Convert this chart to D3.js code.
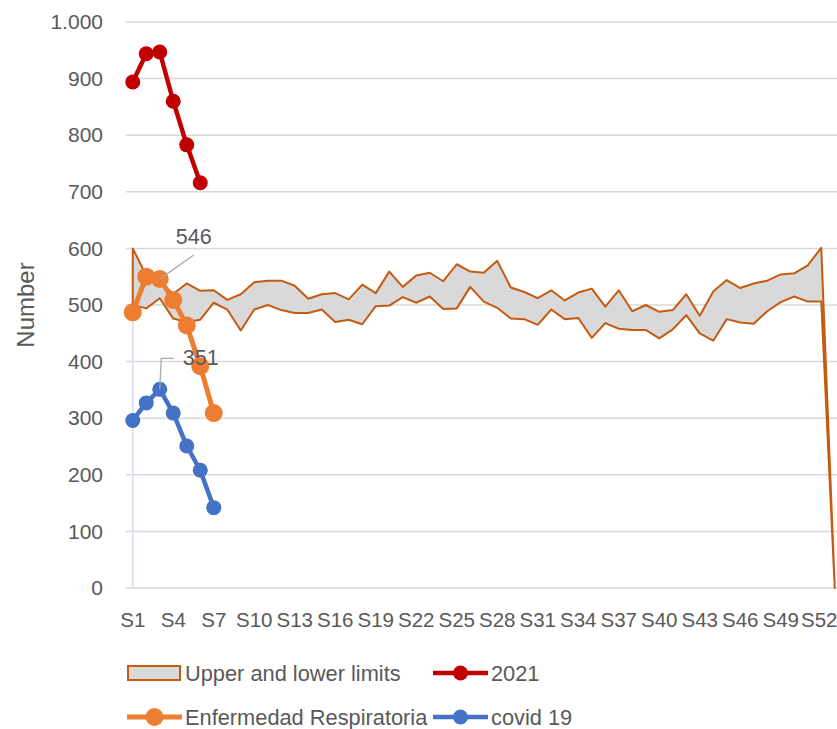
<!doctype html>
<html lang="en">
<head>
  <meta charset="utf-8">
  <title>weekly chart</title>
  <style>
    * { margin: 0; padding: 0; box-sizing: border-box; }
    body { background: #fff; }
    text { font-family: "Liberation Sans", Arial, sans-serif; fill: #595959; }
  </style>
</head>
<body>
  <div class="chart"></div>
  <script src="https://cdn.jsdelivr.net/npm/d3@7"></script>
  <script>
    // ---------------------------------------------------------------
    //@@ data
    const weeks = d3.range(1, 54).map(i => 'S' + i);
    const weekTicks = weeks.filter((d, i) => i % 3 === 0);
    const yTicks = [0, 100, 200, 300, 400, 500, 600, 700, 800, 900, 1000];

    const upperLimit = [600, 552, 540, 520, 538, 525, 526, 509, 519, 540,
      543, 543, 534, 511, 519, 521, 510, 536, 521, 559,
      532, 552, 557, 542, 572, 559, 557, 578, 531, 523,
      512, 526, 508, 522, 529, 497, 526, 489, 500, 488,
      491, 519, 481, 524, 544, 530, 538, 543, 554, 556,
      570, 601, 0];
    const lowerLimit = [500, 494, 512, 476, 470, 474, 504, 492, 455, 492,
      500, 491, 486, 486, 492, 470, 474, 466, 498, 499,
      514, 504, 515, 493, 494, 532, 506, 495, 476, 475,
      465, 492, 475, 477, 442, 468, 458, 456, 456, 441,
      457, 482, 450, 437, 475, 469, 467, 489, 505, 515,
      506, 506, 0];

    const values2021 = [894, 944, 947, 860, 783, 716];
    const valuesRespiratoria = [487, 550, 546, 509, 464, 392, 309];
    const valuesCovid = [296, 327, 351, 309, 251, 208, 142];

    const series = [
      {name: '2021', values: values2021, color: '#C00000', r: 7.5, w: 4.5},
      {name: 'Enfermedad Respiratoria', values: valuesRespiratoria, color: '#ED7D31', r: 9, w: 5},
      {name: 'covid 19', values: valuesCovid, color: '#4472C4', r: 7.5, w: 4.5}
    ];

    // ---------------------------------------------------------------
    //@@ svg
    const svg = d3.select('.chart').append('svg')
      .attr('width', 837)
      .attr('height', 729);

    //@@ scales
    const x = d3.scaleBand().domain(weeks).range([126, 126 + 53 * 13.5]);
    const cx = d => x(d) + x.bandwidth() / 2;
    const y = d3.scaleLinear().domain([0, 1000]).range([588, 22]);

    //@@ gridlines
    svg.append('g').attr('note', 'grid')
      .selectAll('line')
      .data(yTicks)
      .enter().append('line')
      .attr('x1', x.range()[0]).attr('x2', x.range()[1])
      .attr('y1', d => y(d)).attr('y2', d => y(d))
      .attr('stroke', '#d9d9d9')
      .attr('stroke-width', 1.5);

    //@@ y axis
    const locale = d3.formatLocale({decimal: ',', thousands: '.', grouping: [3], currency: ['', '']});
    const axisY = d3.axisLeft(y).tickValues(yTicks).tickSize(0).tickPadding(0).tickFormat(locale.format(',d'));
    const areaAxisY = svg.append('g')
      .attr('transform', 'translate(103,0)')
      .call(axisY);
    areaAxisY.select('.domain').remove();
    areaAxisY.selectAll('text')
      .attr('fill', '#595959')
      .style('font-size', '21px')
      .style('font-family', '"Liberation Sans", Arial, sans-serif');

    svg.append('text')
      .attr('transform', `translate(34,${y(500)}) rotate(-90)`)
      .attr('text-anchor', 'middle')
      .style('font-size', '24px')
      .text('Number');

    //@@ x axis
    const axisX = d3.axisBottom(x).tickValues(weekTicks).tickSize(0).tickPadding(0);
    const areaAxisX = svg.append('g')
      .attr('transform', 'translate(0,612)')
      .call(axisX);
    areaAxisX.select('.domain').remove();
    areaAxisX.selectAll('text')
      .attr('fill', '#595959')
      .style('font-size', '20.5px')
      .style('font-family', '"Liberation Sans", Arial, sans-serif');
    areaAxisX.selectAll('.tick').filter(d => d === 'S52')
      .select('text').attr('dx', '-2');

    //@@ band
    const bandData = weeks.map((w, i) => ({w, lo: lowerLimit[i], hi: upperLimit[i]}));
    svg.append('line')
      .attr('x1', cx(weeks[0])).attr('x2', cx(weeks[0]))
      .attr('y1', y(0)).attr('y2', y(lowerLimit[0]))
      .attr('stroke', '#dae3f3').attr('stroke-width', 2);

    svg.append('path')
      .datum(bandData)
      .attr('d', d3.area().x(d => cx(d.w)).y0(d => y(d.lo)).y1(d => y(d.hi)))
      .attr('fill', '#d9d9d9')
      .attr('stroke', '#C55A11')
      .attr('stroke-width', 2)
      .attr('stroke-linejoin', 'round');

    //@@ series
    series.forEach(s => {
      const pts = s.values.map((v, i) => ({w: weeks[i], v}));
      const g = svg.append('g');
      g.append('path')
        .datum(pts)
        .attr('d', d3.line().x(d => cx(d.w)).y(d => y(d.v)))
        .attr('fill', 'none')
        .attr('stroke', s.color)
        .attr('stroke-width', s.w)
        .attr('stroke-linejoin', 'round');
      g.selectAll('circle')
        .data(pts)
        .enter().append('circle')
        .attr('cx', d => cx(d.w))
        .attr('cy', d => y(d.v))
        .attr('r', s.r)
        .attr('fill', s.color);
    });

    //@@ data labels
    const px = cx(weeks[2]);
    const pyR = y(valuesRespiratoria[2]);
    svg.append('path')
      .attr('d', `M${px},${pyR}L${px + 34},${pyR - 24}`)
      .attr('stroke', '#a6a6a6').attr('stroke-width', 1.3).attr('fill', 'none');
    svg.append('text')
      .attr('x', px + 34).attr('y', pyR - 35)
      .attr('text-anchor', 'middle')
      .attr('fill', '#404040')
      .style('font-size', '21.5px')
      .text(valuesRespiratoria[2]);

    const pyC = y(valuesCovid[2]);
    svg.append('path')
      .attr('d', `M${px},${pyC}L${px + 1.5},${pyC - 31}L${px + 14},${pyC - 31}`)
      .attr('stroke', '#a6a6a6').attr('stroke-width', 1.3).attr('fill', 'none');
    svg.append('text')
      .attr('x', px + 41).attr('y', pyC - 24)
      .attr('text-anchor', 'middle')
      .attr('fill', '#404040')
      .style('font-size', '21.5px')
      .text(valuesCovid[2]);

    //@@ legend
    const legendItems = [
      {name: 'Upper and lower limits', type: 'band', x: 127, y: 673},
      {name: series[0].name, type: 'line', s: series[0], x: 433, y: 673},
      {name: series[1].name, type: 'line', s: series[1], x: 127, y: 717},
      {name: series[2].name, type: 'line', s: series[2], x: 433, y: 717}
    ];
    const legend = svg.append('g').attr('note', 'legend');
    legendItems.forEach(it => {
      const g = legend.append('g').attr('transform', `translate(${it.x},${it.y})`);
      if (it.type === 'band') {
        g.append('rect')
          .attr('x', 1).attr('y', -7).attr('width', 52).attr('height', 14)
          .attr('fill', '#d9d9d9').attr('stroke', '#C55A11').attr('stroke-width', 2);
      } else {
        g.append('line')
          .attr('x1', 0).attr('x2', 55).attr('y1', 0).attr('y2', 0)
          .attr('stroke', it.s.color).attr('stroke-width', it.s.w);
        g.append('circle')
          .attr('cx', 27.5).attr('cy', 0).attr('r', it.s.r)
          .attr('fill', it.s.color);
      }
      g.append('text')
        .attr('x', 58).attr('y', 0).attr('dy', '0.35em')
        .style('font-size', '21.8px')
        .text(it.name);
    });
  </script>
</body>
</html>
